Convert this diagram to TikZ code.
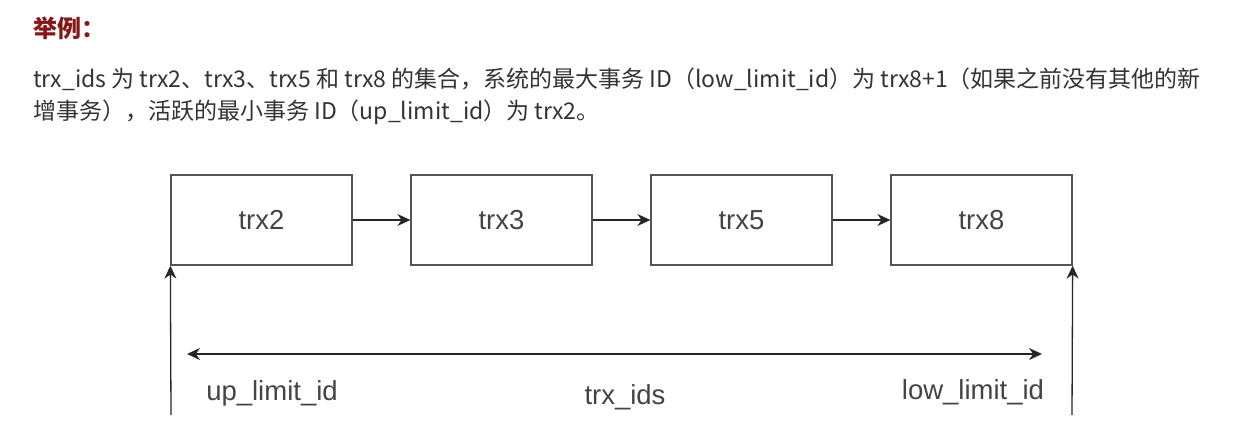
\documentclass[tikz,border=0pt]{standalone}
\usepackage{fontspec}
\setmainfont{Liberation Sans}
\newfontfamily\cjk{Noto Sans CJK SC}
\usetikzlibrary{arrows.meta}
\definecolor{titlered}{RGB}{135,22,22}
\definecolor{bodygray}{RGB}{51,51,51}
\definecolor{boxgray}{RGB}{85,85,85}
\definecolor{labgray}{RGB}{68,68,68}
\tikzset{
  trxbox/.style={draw=boxgray, line width=1.3pt, minimum width=181pt, minimum height=90pt, inner sep=0pt, text=labgray, font=\fontsize{27.5}{30}\selectfont},
  conn/.style={draw=black!85, line width=1.3pt, -{Stealth[length=13pt,width=12pt]}},
  lab/.style={anchor=base, text=labgray, font=\fontsize{27.5}{30}\selectfont, inner sep=0pt},
  body/.style={anchor=base west, inner sep=0pt, text=bodygray, font=\cjk\fontsize{23}{26}\selectfont}
}
\begin{document}
\begin{tikzpicture}[x=1pt,y=-1pt]
\useasboundingbox[fill=white] (0,0) rectangle (1239,441);
\node[anchor=base west, inner sep=0pt, text=titlered, font=\cjk\bfseries\fontsize{24}{26}\selectfont] (title) at (33,38) {举例：};
\node[body] (l1) at (33,88) {trx\_ids 为 trx2、trx3、trx5 和 trx8 的集合，系统的最大事务 ID（low\_limit\_id）为 trx8+1（如果之前没有其他的新};
\node[body] (l2) at (33,120) {增事务），活跃的最小事务 ID（up\_limit\_id）为 trx2。};
\node[trxbox] (t2) at (261.5,220) {\raisebox{-2pt}{trx2}};
\node[trxbox] (t3) at (501.5,220) {\raisebox{-2pt}{trx3}};
\node[trxbox] (t5) at (741.5,220) {\raisebox{-2pt}{trx5}};
\node[trxbox] (t8) at (981.5,220) {\raisebox{-2pt}{trx8}};
\draw[conn] (t2) -- (t3);
\draw[conn] (t3) -- (t5);
\draw[conn] (t5) -- (t8);
\coordinate (lb) at (171,415);
\coordinate (rb) at (1072,415);
\draw[conn] (lb) -- (t2.south west);
\draw[conn] (rb) -- (t8.south east);
\coordinate (da) at (187,354);
\coordinate (db) at (1042,354);
\draw[conn, {Stealth[length=13pt,width=12pt]}-{Stealth[length=13pt,width=12pt]}] (da) -- (db);
\node[lab] (up) at (272,400) {up\_limit\_id};
\node[lab] (ids) at (625,404) {trx\_ids};
\node[lab] (low) at (973,399) {low\_limit\_id};
\end{tikzpicture}
\end{document}
